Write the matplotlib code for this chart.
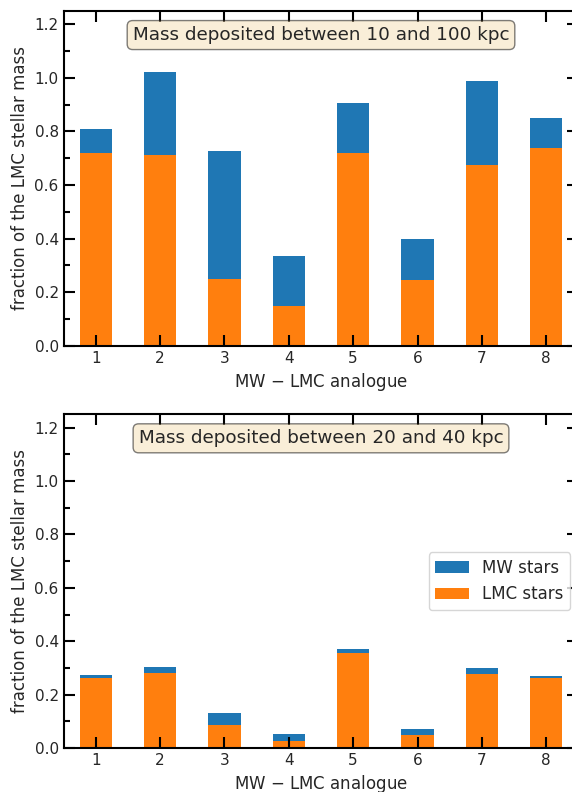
import matplotlib
matplotlib.use("Agg")
import matplotlib.pyplot as plt
import numpy as np
from matplotlib.ticker import MultipleLocator

analogues = [1, 2, 3, 4, 5, 6, 7, 8]

# 10 - 100 kpc
lmc_wide = [0.718, 0.711, 0.249, 0.149, 0.721, 0.246, 0.675, 0.740]
total_wide = [0.811, 1.021, 0.729, 0.336, 0.905, 0.399, 0.990, 0.850]

# 20 - 40 kpc
lmc_narrow = [0.262, 0.281, 0.085, 0.025, 0.355, 0.047, 0.276, 0.262]
total_narrow = [0.272, 0.302, 0.130, 0.051, 0.370, 0.070, 0.299, 0.269]

titles = ["Mass deposited between 10 and 100 kpc",
          "Mass deposited between 20 and 40 kpc"]

_BLUE = "#1f77b4"
_ORANGE = "#ff7f0e"
_TEXT = "#262626"

plt.rcParams["text.color"] = _TEXT
plt.rcParams["axes.labelcolor"] = _TEXT
plt.rcParams["xtick.labelcolor"] = _TEXT
plt.rcParams["ytick.labelcolor"] = _TEXT

W, H = 572, 792
fig = plt.figure(figsize=(W / 100, H / 100), dpi=100)

# axes run a bit past the right edge, like the cropped original
left, right = 63.5, 578.5
panels = [(11.0, 345.7), (414.3, 748.0)]


def panel(ax, lmc, total, title, legend=False):
    x = np.array(analogues)
    lmc = np.array(lmc)
    mw = np.array(total) - lmc
    ax.bar(x, mw, width=0.5, bottom=lmc, color=_BLUE, label="MW stars")
    ax.bar(x, lmc, width=0.5, color=_ORANGE, label="LMC stars")
    ax.set_xlim(0.5, 8.5)
    ax.set_ylim(0, 1.25)
    ax.set_xticks(x)
    ax.yaxis.set_major_locator(MultipleLocator(0.2))
    ax.yaxis.set_minor_locator(MultipleLocator(0.1))
    ax.tick_params(which="both", direction="in", top=True, right=True,
                   labelsize=11, width=1.5)
    ax.tick_params(which="major", length=8)
    ax.tick_params(which="minor", length=4)
    for s in ax.spines.values():
        s.set_linewidth(1.5)
    ax.set_xlabel("MW $-$ LMC analogue", fontsize=12)
    ax.set_ylabel("fraction of the LMC stellar mass", fontsize=12)
    ax.text(0.5, 0.955, title, transform=ax.transAxes, ha="center", va="top",
            fontsize=13.2,
            bbox=dict(boxstyle="round", facecolor="wheat", alpha=0.5))
    if legend:
        ax.legend(loc="center right", fontsize=12)


for (top, bot), lmc, tot, title, leg in zip(
        panels, [lmc_wide, lmc_narrow], [total_wide, total_narrow],
        titles, [False, True]):
    ax = fig.add_axes([left / W, 1 - bot / H, (right - left) / W, (bot - top) / H])
    panel(ax, lmc, tot, title, leg)

fig.savefig("out.png", dpi=100)
